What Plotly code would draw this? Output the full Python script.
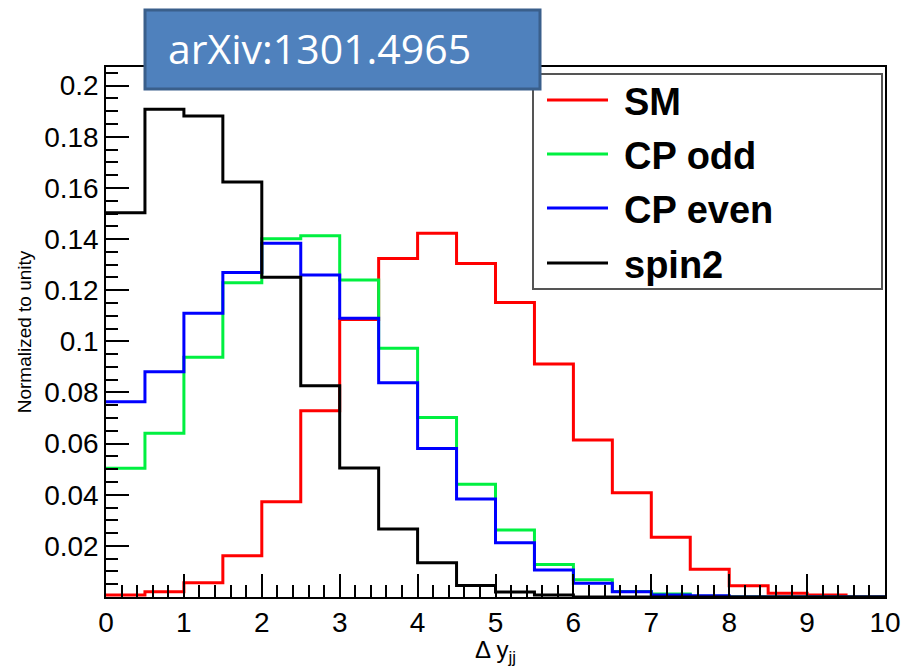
import plotly.graph_objects as go

# ---- data ----
bin_edges = [0.0, 0.5, 1.0, 1.5, 2.0, 2.5, 3.0, 3.5, 4.0, 4.5, 5.0,
             5.5, 6.0, 6.5, 7.0, 7.5, 8.0, 8.5, 9.0, 9.5, 10.0]

sm = [0.0008, 0.0021, 0.0056, 0.0161, 0.0373, 0.0728, 0.1085, 0.1324, 0.1423, 0.1304,
      0.1152, 0.0911, 0.0614, 0.0408, 0.0234, 0.0109, 0.0044, 0.0015, 0.0008, 0.0]
cp_odd = [0.0504, 0.064, 0.0938, 0.1229, 0.1401, 0.1413, 0.124, 0.0973, 0.0702, 0.0441,
          0.0262, 0.0127, 0.0067, 0.0022, 0.0012, 0.0003, 0.0, 0.0, 0.0, 0.0]
cp_even = [0.0764, 0.0881, 0.111, 0.1269, 0.1384, 0.1259, 0.109, 0.0838, 0.0581, 0.0383,
           0.0212, 0.0106, 0.0054, 0.0021, 0.0008, 0.0005, 0.0, 0.0, 0.0, 0.0]
spin2 = [0.1503, 0.1908, 0.1881, 0.1623, 0.1251, 0.0826, 0.0505, 0.0266, 0.0134, 0.0045,
         0.002, 0.0008, 0.0, 0.0, 0.0, 0.0, 0.0, 0.0, 0.0, 0.0]

series_names = ["SM", "CP odd", "CP even", "spin2"]
series_values = [sm, cp_odd, cp_even, spin2]
series_colors = ["#FF0000", "#00F040", "#0000FF", "#000000"]

x_tickvals = [0, 1, 2, 3, 4, 5, 6, 7, 8, 9, 10]
x_ticktext = ["0", "1", "2", "3", "4", "5", "6", "7", "8", "9", "10"]
y_tickvals = [0.02, 0.04, 0.06, 0.08, 0.10, 0.12, 0.14, 0.16, 0.18, 0.20]
y_ticktext = ["0.02", "0.04", "0.06", "0.08", "0.1", "0.12", "0.14", "0.16", "0.18", "0.2"]

fig = go.Figure()
for name, vals, col in zip(series_names, series_values, series_colors):
    fig.add_trace(go.Scatter(
        x=bin_edges, y=vals + [vals[-1]], mode="lines", line_shape="hv",
        line=dict(color=col, width=3), name=name, showlegend=False,
        cliponaxis=True,
    ))

W, H = 906, 667
L, R, T, B = 106, 885, 67, 597   # plot area in pixels
pw, ph = R - L, B - T
def px(x): return (x - L) / pw
def py(y): return (B - y) / ph

axis_font = dict(family="Liberation Sans, Arial, sans-serif", size=28, color="black")

fig.update_layout(
    width=W, height=H,
    margin=dict(l=L, r=W - R, t=T, b=H - B),
    paper_bgcolor="white", plot_bgcolor="white",
    showlegend=False,
    xaxis=dict(
        range=[0, 10], tickmode="array", tickvals=x_tickvals, ticktext=x_ticktext,
        ticks="inside", ticklen=23, tickwidth=1.5, tickcolor="black",
        minor=dict(tick0=0, dtick=0.2, ticks="inside", ticklen=12, tickwidth=1.5, tickcolor="black"),
        showline=True, mirror=True, linecolor="black", linewidth=1.5,
        showgrid=False, zeroline=False, tickfont=axis_font,
        title=dict(text="Δ y<sub>jj</sub>", font=dict(family="Liberation Sans, Arial, sans-serif", size=24, color="black"), standoff=2),
        automargin=False,
    ),
    yaxis=dict(
        range=[0, 0.2073], tickmode="array", tickvals=y_tickvals, ticktext=y_ticktext,
        ticks="inside", ticklen=23, tickwidth=1.5, tickcolor="black",
        minor=dict(tick0=0, dtick=0.005, ticks="inside", ticklen=12, tickwidth=1.5, tickcolor="black"),
        showline=True, mirror=True, linecolor="black", linewidth=1.5,
        showgrid=False, zeroline=False, tickfont=axis_font,
        title=dict(text="Normalized to unity", font=dict(family="Liberation Sans, Arial, sans-serif", size=19, color="black"), standoff=8),
        automargin=False,
    ),
)

shapes = []
annotations = []
# legend box
shapes.append(dict(type="rect", xref="paper", yref="paper",
                   x0=px(533), x1=px(882), y0=py(289), y1=py(74),
                   line=dict(color="#555555", width=2), fillcolor="white", layer="above"))
leg_y = [100, 154, 208, 263]
for name, col, yy in zip(series_names, series_colors, leg_y):
    shapes.append(dict(type="line", xref="paper", yref="paper",
                       x0=px(547), x1=px(608), y0=py(yy), y1=py(yy),
                       line=dict(color=col, width=3), layer="above"))
    annotations.append(dict(xref="paper", yref="paper", x=px(622), y=py(yy + 2),
                            text="<b>%s</b>" % name, showarrow=False,
                            xanchor="left", yanchor="middle",
                            font=dict(family="Liberation Sans, Arial, sans-serif", size=38, color="black")))
# arXiv box
shapes.append(dict(type="rect", xref="paper", yref="paper",
                   x0=px(145), x1=px(540), y0=py(89), y1=py(10),
                   line=dict(color="#3A5F8B", width=3), fillcolor="#4F81BD", layer="above"))
annotations.append(dict(xref="paper", yref="paper", x=px(166), y=py(48),
                        text="arXiv:1301.4965", showarrow=False,
                        xanchor="left", yanchor="middle",
                        font=dict(family="Open Sans, sans-serif", size=41, color="white")))

fig.update_layout(shapes=shapes, annotations=annotations)
fig.write_html("out.html")
